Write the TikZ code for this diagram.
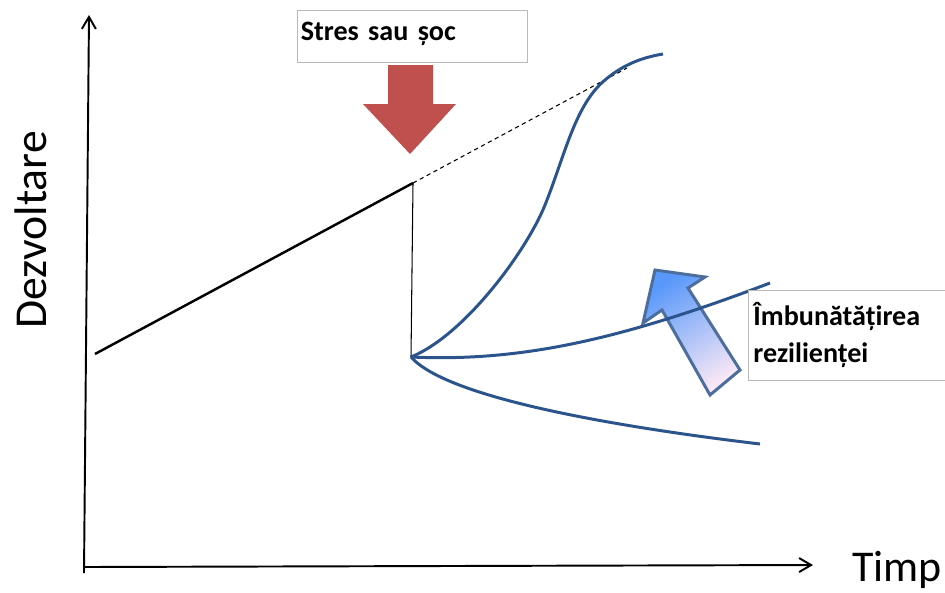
\documentclass[tikz,border=0pt]{standalone}
\usepackage{fontspec}
\setmainfont{Carlito}
\usetikzlibrary{arrows.meta}

\definecolor{curveblue}{RGB}{44,84,140}
\definecolor{shockred}{RGB}{192,80,77}
\definecolor{arrowtop}{RGB}{88,152,250}
\definecolor{arrowbottom}{RGB}{250,232,246}

\newcommand*\pxunit{0.02cm}
\tikzset{
    axis/.style={line width=1.1pt, -{Straight Barb[length=2.4mm,width=2.8mm]}},
    growth/.style={line width=1.4pt},
    response/.style={line width=1.7pt, curveblue},
    labelbox/.style={
        draw=gray!55,
        line width=0.5pt,
        fill=white,
        font=\fontsize{16}{21}\selectfont\bfseries,
        inner sep=2pt,
        align=left
    }
}

\begin{document}
\begin{tikzpicture}[x=\pxunit,y=-\pxunit]
    \useasboundingbox (0,0) rectangle (945,592);

    % Axes and their labels.
    \coordinate (origin) at (84,573);
    \coordinate (ytop) at (89,15);
    \coordinate (xstart) at (83,567);
    \coordinate (xend) at (813,565);
    \draw[axis] (origin) -- (ytop);
    \draw[axis] (xstart) -- (xend);
    \node[rotate=90, font=\fontsize{26}{30}\selectfont] (ylabel) at (31,230) {Dezvoltare};
    \node[font=\fontsize{25}{30}\selectfont] (xlabel) at (897,570) {Timp};

    % Steady growth, then the drop.
    \coordinate (start) at (95,354);
    \coordinate (peak) at (413,183);
    \coordinate (drop) at (411,357);
    \coordinate (trend) at (627,68);
    \draw[growth] (start) -- (peak);
    \draw[line width=0.6pt] (peak) -- (drop);
    \draw[line width=0.6pt, dash pattern=on 2.4pt off 2pt] (peak) -- (trend);

    % The shock.
    \fill[shockred] (388,65) -- (433,65) -- (433,104) -- (456,104) -- (410,154)
        -- (363,104) -- (388,104) -- cycle;
    \node[labelbox, minimum width=4.6cm, minimum height=1.04cm, text width=4.45cm,
        text depth=5pt] (shockbox) at (412,36) {Stres sau șoc};

    % Resilience arrow, drawn below the curves.
    \shade[top color=arrowtop, bottom color=arrowbottom, shading angle=32]
        (655,270) -- (705,277) -- (688,288) -- (740,370) -- (710,395)
        -- (662,310) -- (643,323) -- cycle;
    \draw[line width=1.7pt, curveblue!85!white, line join=miter]
        (655,270) -- (705,277) -- (688,288) -- (740,370) -- (710,395)
        -- (662,310) -- (643,323) -- cycle;

    % Three responses after the shock.
    \draw[response] (drop) .. controls (465,335) and (527,250) .. (545,205)
        .. controls (565,155) and (575,105) .. (605,80)
        .. controls (625,63) and (645,57) .. (663,54);
    \draw[response] (drop) .. controls (520,362) and (620,340) .. (770,283);
    \draw[response] (drop) .. controls (440,390) and (560,420) .. (760,444);

    \node[labelbox, anchor=north west, minimum width=4.1cm, minimum height=1.8cm,
        text width=3.9cm] (resilbox) at (748,290) {Îmbunătățirea\\rezilienței};

\end{tikzpicture}
\end{document}
